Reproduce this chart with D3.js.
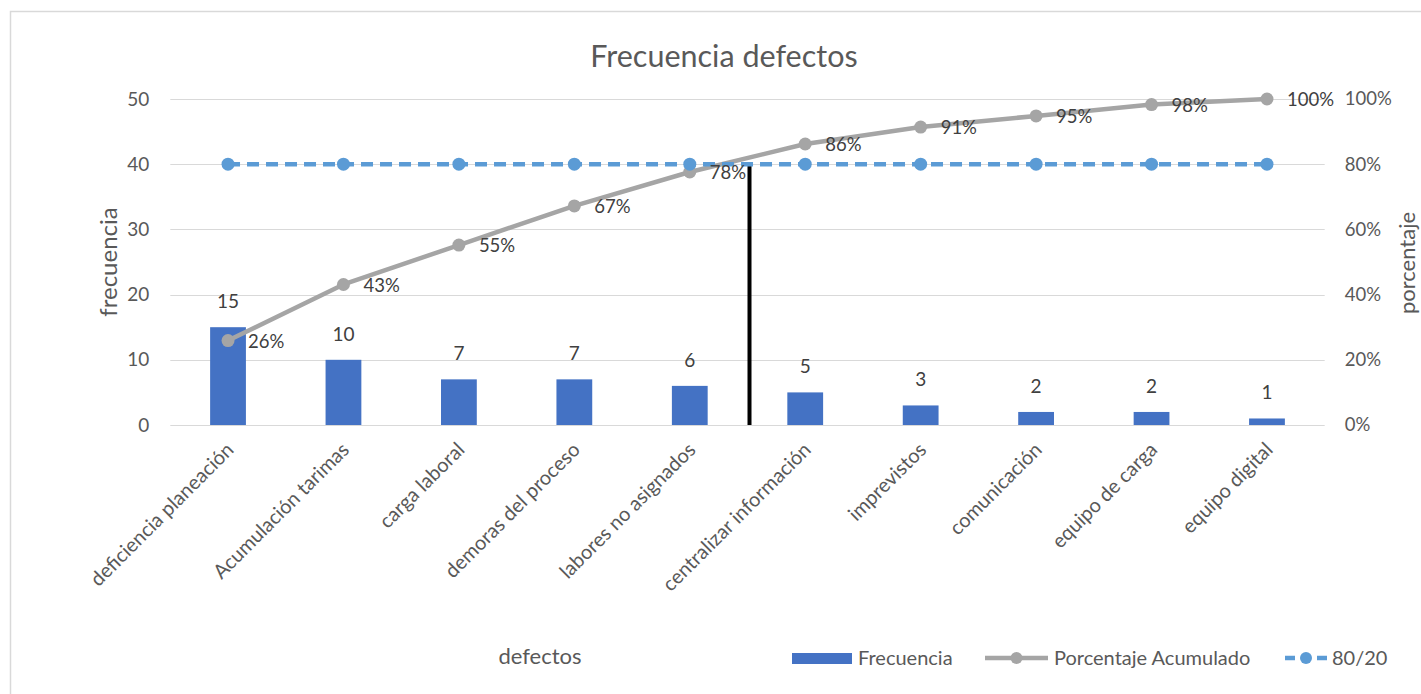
<!DOCTYPE html>
<html>
<head>
<meta charset="utf-8">
<script src="https://cdn.jsdelivr.net/npm/d3@7"></script>
<style>
  html, body { margin: 0; padding: 0; background: #fff; }
  svg { display: block; font-family: Lato, "Open Sans", sans-serif; }
</style>
</head>
<body>
<svg id="chart" width="1421" height="694"></svg>
<script>
const categories = ["deficiencia planeación", "Acumulación tarimas", "carga laboral", "demoras del proceso", "labores no asignados", "centralizar información", "imprevistos", "comunicación", "equipo de carga", "equipo digital"];
const frecuencia = [15, 10, 7, 7, 6, 5, 3, 2, 2, 1];
const porcentajeAcumulado = [25.9, 43.1, 55.2, 67.2, 77.6, 86.2, 91.4, 94.8, 98.3, 100];
const porcentajeLabels = ["26%", "43%", "55%", "67%", "78%", "86%", "91%", "95%", "98%", "100%"];
const linea8020 = [80, 80, 80, 80, 80, 80, 80, 80, 80, 80];
const leftTicks = [0, 10, 20, 30, 40, 50];
const rightTicks = [0, 20, 40, 60, 80, 100];
const corteIndex = 4; // vertical cut after this category

const svg = d3.select("#chart");
const m = { left: 170.3, right: 1324.7, top: 99, bottom: 425 };

const textColor = "#595959";
const labelColor = "#404040";
const gridColor = "#d9d9d9";
const barColor = "#4472C4";
const grayColor = "#A5A5A5";
const blueColor = "#5B9BD5";

// border
svg.append("rect").attr("x", 10.5).attr("y", 11.5).attr("width", 1430).attr("height", 700)
  .attr("fill", "#fff").attr("stroke", gridColor).attr("stroke-width", 1.5);

const x = d3.scaleBand().domain(categories).range([m.left, m.right]).paddingInner(0.69).paddingOuter(0.345);
const xc = d => x(d) + x.bandwidth() / 2;
const yL = d3.scaleLinear().domain([0, 50]).range([m.bottom, m.top]);
const yR = d3.scaleLinear().domain([0, 100]).range([m.bottom, m.top]);

// gridlines
svg.append("g").selectAll("line").data(leftTicks).join("line")
  .attr("x1", m.left).attr("x2", m.right)
  .attr("y1", d => Math.round(yL(d)) + 0.5).attr("y2", d => Math.round(yL(d)) + 0.5)
  .attr("stroke", gridColor).attr("stroke-width", 1);

// left axis
const axL = d3.axisLeft(yL).tickValues(leftTicks).tickSize(0).tickPadding(0);
const gL = svg.append("g").attr("transform", `translate(${m.left - 21},0)`).call(axL);
gL.select(".domain").remove();
gL.selectAll("text").attr("fill", textColor).style("font-size", "19px").style("font-family", "Lato, sans-serif");

// right axis
const axR = d3.axisRight(yR).tickValues(rightTicks).tickSize(0).tickPadding(0).tickFormat(d => d + "%");
const gR = svg.append("g").attr("transform", `translate(${m.right + 20},0)`).call(axR);
gR.select(".domain").remove();
gR.selectAll("text").attr("fill", textColor).style("font-size", "18.5px").style("font-family", "Lato, sans-serif");

// bars
svg.append("g").selectAll("rect").data(frecuencia).join("rect")
  .attr("x", (d, i) => x(categories[i]))
  .attr("y", d => yL(d))
  .attr("width", x.bandwidth())
  .attr("height", d => yL(0) - yL(d))
  .attr("fill", barColor);

// bar labels
svg.append("g").selectAll("text").data(frecuencia).join("text")
  .attr("x", (d, i) => xc(categories[i]))
  .attr("y", d => yL(d) - 19)
  .attr("text-anchor", "middle")
  .attr("fill", labelColor).style("font-size", "19px")
  .text(d => d);

// vertical cut line
const cutX = x(categories[corteIndex]) + x.bandwidth() + (x.step() - x.bandwidth()) / 2 + 2;
svg.append("line").attr("x1", cutX).attr("x2", cutX)
  .attr("y1", yR(80)).attr("y2", yR(0))
  .attr("stroke", "#000").attr("stroke-width", 4);

// gray cumulative line
const lineR = d3.line().x((d, i) => xc(categories[i])).y(d => yR(d));
svg.append("path").datum(porcentajeAcumulado).attr("d", lineR)
  .attr("fill", "none").attr("stroke", grayColor).attr("stroke-width", 4.5).attr("stroke-linejoin", "round");
svg.append("g").selectAll("circle").data(porcentajeAcumulado).join("circle")
  .attr("cx", (d, i) => xc(categories[i])).attr("cy", d => yR(d)).attr("r", 6.5)
  .attr("fill", grayColor);

// 80/20 line
svg.append("path").datum(linea8020).attr("d", lineR)
  .attr("fill", "none").attr("stroke", blueColor).attr("stroke-width", 4.5).attr("stroke-dasharray", "12,7");
svg.append("g").selectAll("circle").data(linea8020).join("circle")
  .attr("cx", (d, i) => xc(categories[i])).attr("cy", d => yR(d)).attr("r", 6.5)
  .attr("fill", blueColor);

// percent labels
svg.append("g").selectAll("text").data(porcentajeAcumulado).join("text")
  .attr("x", (d, i) => xc(categories[i]) + 20)
  .attr("y", d => yR(d))
  .attr("dy", "0.4em")
  .attr("fill", labelColor).style("font-size", "18.5px")
  .text((d, i) => porcentajeLabels[i]);

// x labels
svg.append("g").selectAll("text").data(categories).join("text")
  .attr("transform", d => `translate(${xc(d) + 7},${m.bottom + 26}) rotate(-45)`)
  .attr("text-anchor", "end")
  .attr("fill", textColor).style("font-size", "20px")
  .text(d => d);

// title
svg.append("text").attr("x", 724).attr("y", 67).attr("text-anchor", "middle")
  .attr("fill", textColor).style("font-size", "30.5px").text("Frecuencia defectos");

// axis titles
svg.append("text").attr("transform", `translate(117,262) rotate(-90)`).attr("text-anchor", "middle")
  .attr("fill", textColor).style("font-size", "24px").text("frecuencia");
svg.append("text").attr("transform", `translate(1415,263) rotate(-90)`).attr("text-anchor", "middle")
  .attr("fill", textColor).style("font-size", "22px").text("porcentaje");
svg.append("text").attr("x", 540).attr("y", 664).attr("text-anchor", "middle")
  .attr("fill", textColor).style("font-size", "22px").text("defectos");

// legend
const lg = svg.append("g");
const ly = 658;
lg.append("rect").attr("x", 792).attr("y", ly - 5).attr("width", 60).attr("height", 11).attr("fill", barColor);
lg.append("text").attr("x", 858).attr("y", ly).attr("dy", "0.35em").attr("fill", textColor).style("font-size", "20px").text("Frecuencia");
lg.append("line").attr("x1", 985).attr("x2", 1048).attr("y1", ly).attr("y2", ly).attr("stroke", grayColor).attr("stroke-width", 4.5);
lg.append("circle").attr("cx", 1016.5).attr("cy", ly).attr("r", 6).attr("fill", grayColor);
lg.append("text").attr("x", 1054).attr("y", ly).attr("dy", "0.35em").attr("fill", textColor).style("font-size", "20px").text("Porcentaje Acumulado");
lg.append("line").attr("x1", 1285).attr("x2", 1327).attr("y1", ly).attr("y2", ly).attr("stroke", blueColor).attr("stroke-width", 4.5).attr("stroke-dasharray", "10,6");
lg.append("circle").attr("cx", 1306).attr("cy", ly).attr("r", 6).attr("fill", blueColor);
lg.append("text").attr("x", 1332).attr("y", ly).attr("dy", "0.35em").attr("fill", textColor).style("font-size", "20px").text("80/20");
</script>
</body>
</html>
